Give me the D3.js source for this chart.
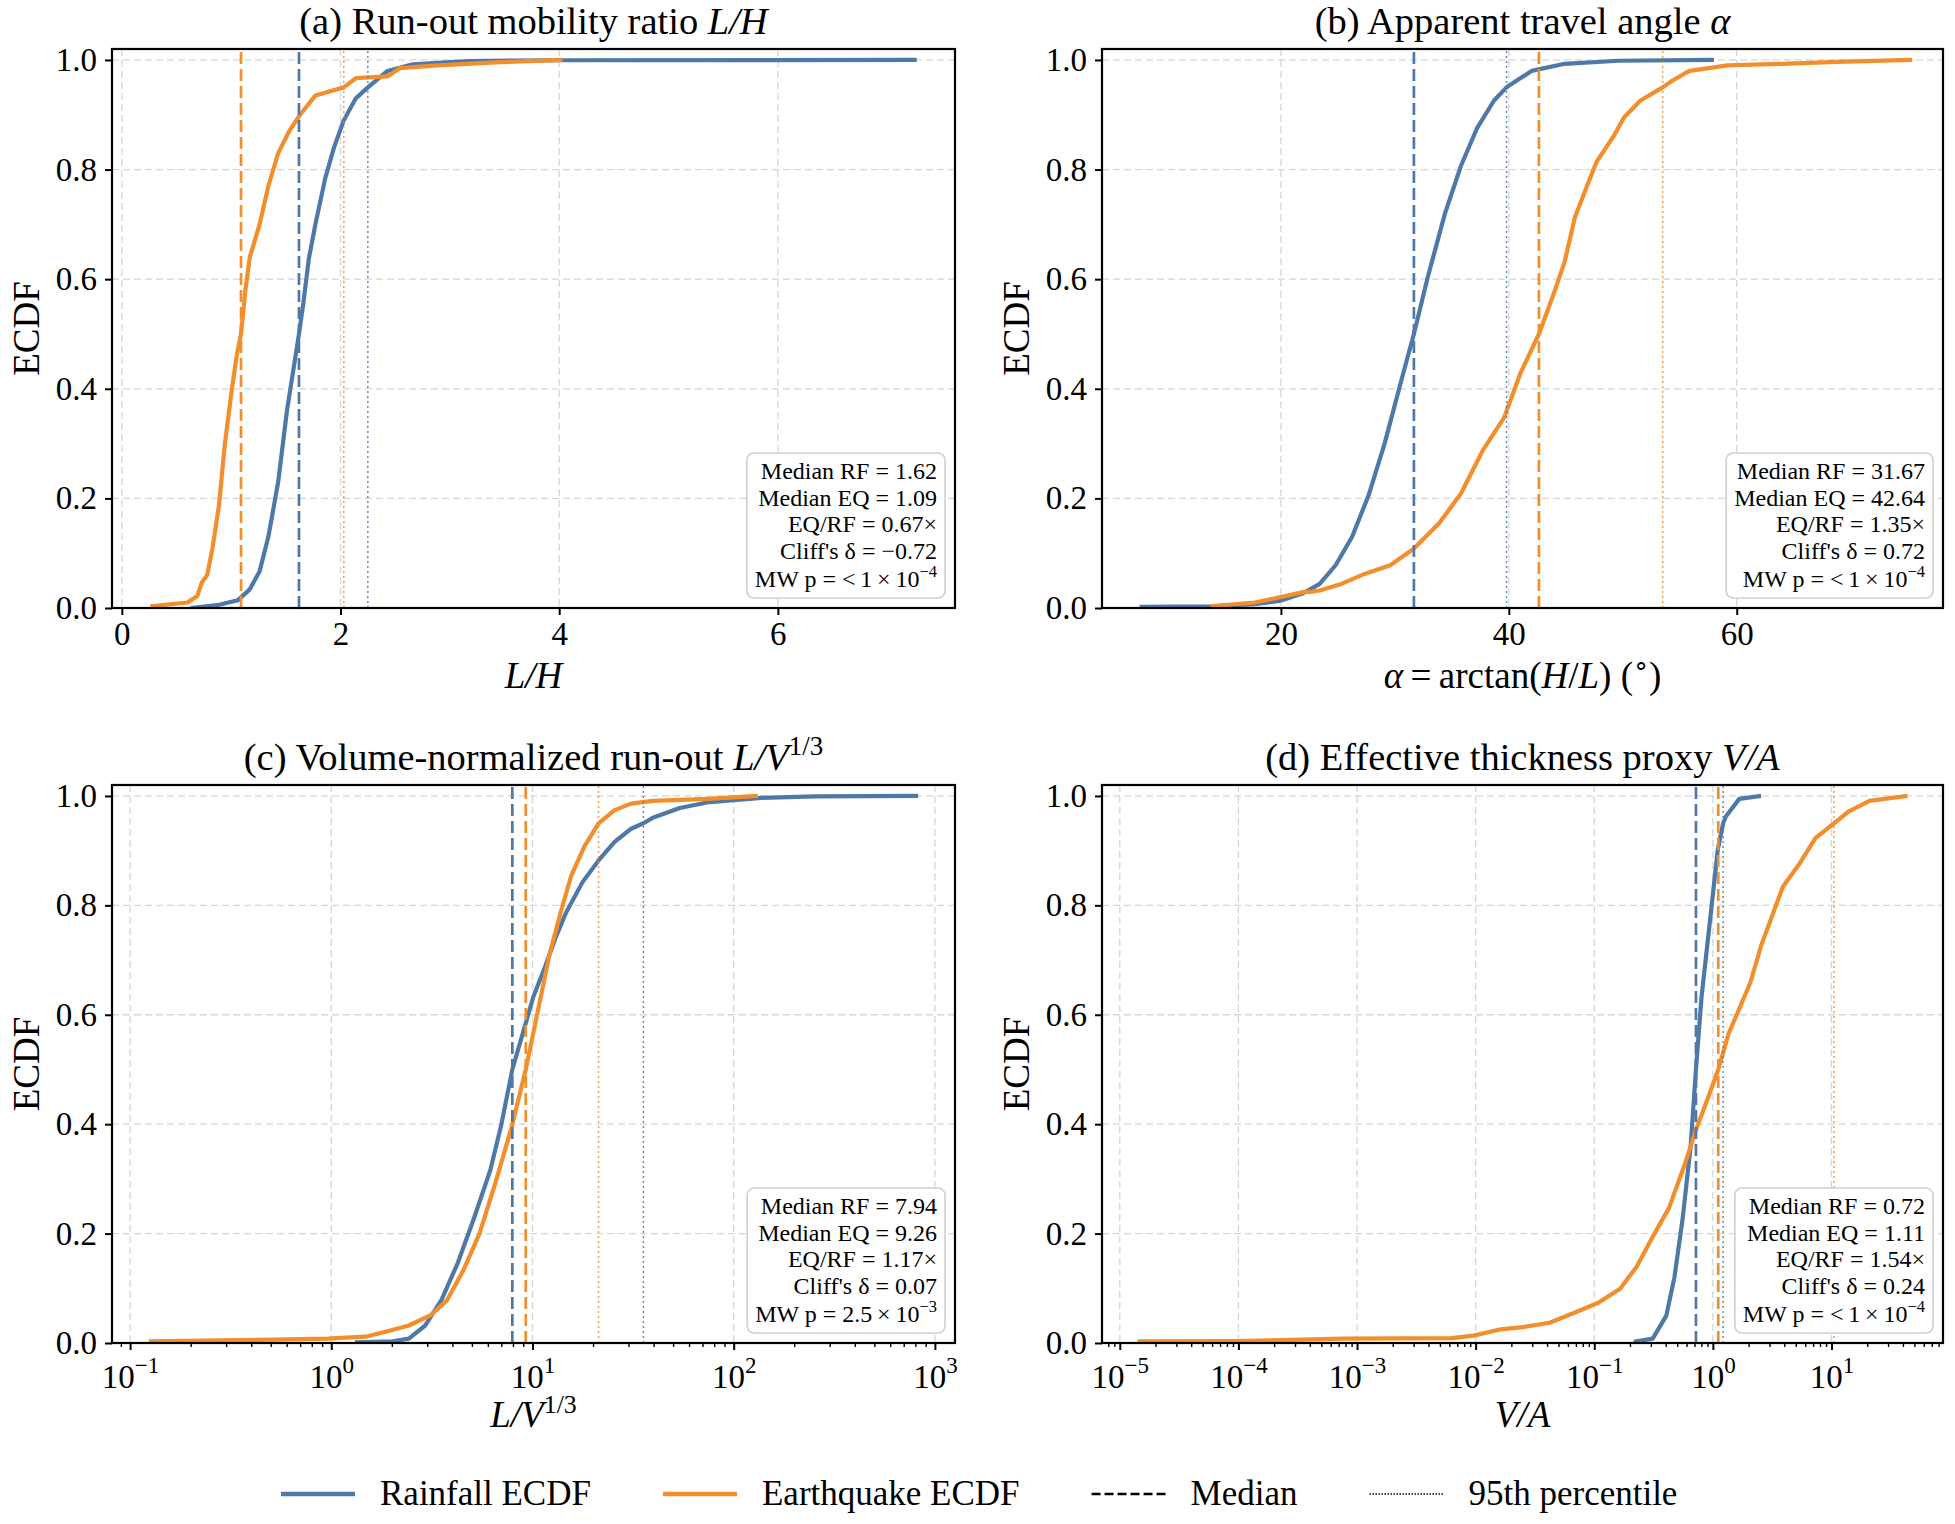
<!DOCTYPE html>
<html>
<head>
<meta charset="utf-8">
<script src="https://cdn.jsdelivr.net/npm/d3@7"></script>
<style>
  body { margin: 0; background: #fff; }
  text { font-family: "Liberation Serif", "Times New Roman", serif; fill: #000; }
</style>
</head>
<body>
<div id="chart"></div>
<script>
// ---- data: [value, ECDF] ----
// (a) L/H
const rfLH = [[0.63,0],[0.89,0.006],[1.06,0.014],[1.17,0.034],[1.26,0.067],[1.34,0.13],[1.43,0.23],[1.51,0.36],[1.62,0.5],[1.66,0.556],[1.71,0.637],[1.77,0.70],[1.86,0.784],[1.94,0.84],[2.03,0.89],[2.14,0.93],[2.25,0.95],[2.43,0.98],[2.66,0.992],[3.17,0.998],[4.0,0.9995],[7.27,1.0]];
const eqLH = [[0.26,0.003],[0.6,0.01],[0.69,0.022],[0.73,0.046],[0.78,0.06],[0.83,0.11],[0.89,0.19],[0.94,0.295],[1.0,0.39],[1.05,0.46],[1.09,0.5],[1.13,0.58],[1.17,0.64],[1.26,0.70],[1.34,0.77],[1.43,0.83],[1.53,0.87],[1.63,0.90],[1.77,0.935],[2.03,0.95],[2.14,0.967],[2.43,0.97],[2.54,0.985],[2.89,0.99],[3.46,0.996],[4.03,1.0]];
// (b) alpha
const rfAlpha = [[7.6,0.002],[13.8,0.003],[17.7,0.007],[20.0,0.0135],[21.96,0.027],[23.4,0.044],[24.8,0.078],[26.25,0.13],[27.7,0.206],[29.1,0.30],[30.5,0.41],[31.67,0.5],[32.9,0.605],[34.4,0.72],[35.8,0.807],[37.2,0.875],[38.7,0.926],[39.8,0.95],[42.0,0.98],[44.9,0.993],[49.6,0.9986],[58.0,1.0]];
const eqAlpha = [[13.8,0.003],[17.7,0.01],[20.0,0.02],[21.96,0.029],[22.7,0.03],[23.4,0.032],[25.3,0.044],[27.2,0.061],[29.6,0.078],[31.65,0.108],[33.9,0.155],[35.8,0.209],[37.7,0.287],[39.6,0.348],[41.05,0.43],[42.64,0.5],[43.9,0.571],[44.9,0.632],[45.8,0.713],[46.8,0.767],[47.7,0.814],[49.2,0.861],[50.1,0.895],[51.55,0.926],[53.5,0.95],[54.4,0.963],[55.85,0.98],[59.2,0.99],[64.0,0.993],[68.7,0.9966],[75.4,1.0]];
// (c) L/V^(1/3)
const rfLV = [[1.31,0.001],[2.02,0.003],[2.43,0.008],[2.93,0.032],[3.53,0.079],[4.26,0.147],[5.12,0.228],[6.17,0.316],[6.98,0.397],[7.94,0.5],[8.95,0.566],[10.1,0.633],[11.5,0.686],[13.0,0.74],[14.7,0.787],[17.7,0.842],[21.3,0.882],[25.6,0.916],[30.9,0.94],[35.6,0.95],[39.6,0.96],[54.0,0.978],[73.6,0.988],[137,0.9966],[254,0.9993],[826,1.0]];
const eqLV = [[0.124,0.003],[0.516,0.006],[0.962,0.008],[1.48,0.0115],[1.90,0.0216],[2.43,0.032],[3.12,0.051],[3.76,0.078],[4.52,0.132],[5.45,0.2],[6.56,0.294],[7.91,0.397],[9.26,0.5],[10.8,0.619],[12.2,0.713],[13.8,0.787],[15.6,0.855],[18.2,0.909],[21.3,0.95],[25.6,0.974],[30.9,0.986],[39.6,0.991],[73.6,0.9946],[132,1.0]];
// (d) V/A
const rfVA = [[0.215,0.002],[0.311,0.008],[0.405,0.05],[0.474,0.12],[0.555,0.226],[0.650,0.36],[0.72,0.5],[0.802,0.632],[0.94,0.767],[1.10,0.902],[1.22,0.95],[1.29,0.963],[1.67,0.9946],[2.55,1.0]];
const eqVA = [[1.41e-5,0.003],[9.3e-5,0.0034],[7.8e-4,0.008],[6.3e-3,0.009],[9.6e-3,0.0135],[0.0163,0.025],[0.0249,0.029],[0.0421,0.037],[0.0713,0.057],[0.109,0.074],[0.165,0.099],[0.227,0.139],[0.311,0.194],[0.427,0.247],[0.585,0.329],[0.721,0.39],[0.891,0.443],[1.11,0.5],[1.36,0.566],[1.67,0.611],[2.07,0.659],[2.55,0.726],[3.15,0.78],[3.89,0.834],[5.33,0.875],[7.31,0.923],[10.5,0.95],[13.8,0.971],[20.9,0.991],[43.7,1.0]];

// medians and 95th percentiles [RF, EQ]
const medians = [[1.62,1.09],[31.67,42.64],[7.94,9.26],[0.72,1.11]];
const p95 = [[2.25,2.03],[39.8,53.5],[35.6,21.3],[1.22,10.5]];

// stats box text
const statLines = [
  ["Median RF = 1.62","Median EQ = 1.09","EQ/RF = 0.67×","Cliff's δ = −0.72"],
  ["Median RF = 31.67","Median EQ = 42.64","EQ/RF = 1.35×","Cliff's δ = 0.72"],
  ["Median RF = 7.94","Median EQ = 9.26","EQ/RF = 1.17×","Cliff's δ = 0.07"],
  ["Median RF = 0.72","Median EQ = 1.11","EQ/RF = 1.54×","Cliff's δ = 0.24"]
];
const pValues = [["<\u20091\u2009×\u200910","−4"],["<\u20091\u2009×\u200910","−4"],["2.5\u2009×\u200910","−3"],["<\u20091\u2009×\u200910","−4"]];

const yTicks = [0,0.2,0.4,0.6,0.8,1.0];
const xTicksA = [0,2,4,6];
const xTicksB = [20,40,60];
const xTicksC = [0.1,1,10,100,1000];
const xTicksD = [1e-5,1e-4,1e-3,1e-2,1e-1,1,10];

const legendItems = ["Rainfall ECDF","Earthquake ECDF","Median","95th percentile"];

// ---- layout ----
const serif = '"Liberation Serif", "Times New Roman", serif';
const blue = "#4e79a7", orange = "#f28e2b";
const W = 1955, H = 1524;
const svg = d3.select("#chart").append("svg")
  .attr("width", W).attr("height", H)
  .attr("font-family", serif)
  .style("background", "#fff");

const cols = [[112, 955], [1102, 1943]];
const rows = [[49, 608], [785, 1343]];

const panels = [
  { col:0, row:0, log:false, domain:[-0.09,7.62], ticks:xTicksA, rf:rfLH, eq:eqLH,
    title:[["(a) Run-out mobility ratio "],["L/H","i"]], xlabel:[["L/H","i"]] },
  { col:1, row:0, log:false, domain:[4.3,78.1], ticks:xTicksB, rf:rfAlpha, eq:eqAlpha,
    title:[["(b) Apparent travel angle "],["α","i"]],
    xlabel:[["α","i"],["\u2009=\u2009arctan("],["H","i"],["/"],["L","i"],[")  ("],["∘","s"],[")"]] },
  { col:0, row:1, log:true, domain:[0.0813,1259], ticks:xTicksC, rf:rfLV, eq:eqLV,
    title:[["(c) Volume-normalized run-out "],["L/V","i"],["1/3","s"]], xlabel:[["L/V","i"],["1/3","s"]] },
  { col:1, row:1, log:true, domain:[7.08e-6,87.1], ticks:xTicksD, rf:rfVA, eq:eqVA,
    title:[["(d) Effective thickness proxy "],["V/A","i"]], xlabel:[["V/A","i"]] }
];

// rich text: segments [text, flag] where flag i = italic, s = superscript
function rich(sel, segs, size) {
  let raised = false;
  segs.forEach(([t, f]) => {
    const ts = sel.append("tspan").text(t);
    if (f === "i") ts.attr("font-style", "italic");
    if (f === "s") {
      ts.attr("font-size", size * 0.7).attr("dy", -size * 0.38);
      raised = true;
    } else if (raised) {
      ts.attr("dy", size * 0.38);
      raised = false;
    }
  });
}

function expLabel(sel, v) {
  const e = Math.round(Math.log10(v));
  sel.text(null);
  sel.append("tspan").text("10");
  sel.append("tspan").attr("font-size", 23).attr("dy", -15)
    .text(e < 0 ? "−" + (-e) : String(e));
}

panels.forEach((p, i) => {
  const [left, right] = cols[p.col];
  const [top, bottom] = rows[p.row];
  const x = (p.log ? d3.scaleLog() : d3.scaleLinear()).domain(p.domain).range([left, right]);
  const y = d3.scaleLinear().domain([0, 1.02]).range([bottom, top]);
  const g = svg.append("g");

  const clipId = "clip" + i;
  g.append("clipPath").attr("id", clipId).append("rect")
    .attr("x", left).attr("y", top).attr("width", right - left).attr("height", bottom - top);

  // grid
  const grid = g.append("g").attr("stroke", "#d6d6d6").attr("stroke-width", 1.3)
    .attr("stroke-dasharray", "7,4");
  grid.selectAll("line.gx").data(p.ticks).join("line")
    .attr("x1", d => x(d)).attr("x2", d => x(d)).attr("y1", top).attr("y2", bottom);
  grid.selectAll("line.gy").data(yTicks).join("line")
    .attr("x1", left).attr("x2", right).attr("y1", d => y(d)).attr("y2", d => y(d));

  // ECDF curves
  const line = d3.line().x(d => x(d[0])).y(d => y(d[1]));
  const plot = g.append("g").attr("clip-path", `url(#${clipId})`);
  plot.append("path").datum(p.rf).attr("d", line)
    .attr("fill", "none").attr("stroke", blue).attr("stroke-width", 4.2).attr("stroke-linejoin", "round");
  plot.append("path").datum(p.eq).attr("d", line)
    .attr("fill", "none").attr("stroke", orange).attr("stroke-width", 4.2).attr("stroke-linejoin", "round");

  // median and 95th percentile markers
  const cols2 = [blue, orange];
  medians[i].forEach((m, k) => {
    plot.append("line").attr("x1", x(m)).attr("x2", x(m)).attr("y1", bottom).attr("y2", top)
      .attr("stroke", cols2[k]).attr("stroke-width", 2.7).attr("stroke-dasharray", "12,5");
  });
  p95[i].forEach((m, k) => {
    plot.append("line").attr("x1", x(m)).attr("x2", x(m)).attr("y1", bottom).attr("y2", top)
      .attr("stroke", cols2[k]).attr("stroke-width", 1.5).attr("stroke-dasharray", "2,3")
      .attr("opacity", 0.85);
  });

  // axes
  const ax = g.append("g").attr("transform", `translate(0,${bottom})`)
    .call(d3.axisBottom(x).tickValues(p.ticks).tickSize(7).tickPadding(7)
      .tickFormat(p.log ? () => "" : d3.format("d")))
    .attr("font-family", serif);
  if (p.log) {
    const minors = x.ticks()
      .filter(v => Math.abs(Math.log10(v) - Math.round(Math.log10(v))) > 1e-6)
      .filter(v => v >= p.domain[0] && v <= p.domain[1]);
    g.append("g").attr("transform", `translate(0,${bottom})`)
      .call(d3.axisBottom(x).tickValues(minors).tickSize(4).tickFormat(() => ""))
      .call(s => s.select(".domain").remove())
      .selectAll("line").attr("stroke-width", 1.4);
    ax.selectAll(".tick text").each(function(d) { expLabel(d3.select(this), d); })
      .attr("dy", null).attr("y", 45);
  }
  ax.selectAll(".tick text").attr("font-size", 33);
  ax.selectAll(".tick line").attr("stroke-width", 2);
  ax.select(".domain").remove();

  const ay = g.append("g").attr("transform", `translate(${left},0)`)
    .call(d3.axisLeft(y).tickValues(yTicks).tickSize(7).tickPadding(8).tickFormat(d3.format(".1f")))
    .attr("font-family", serif);
  ay.selectAll(".tick text").attr("font-size", 33);
  ay.selectAll(".tick line").attr("stroke-width", 2);
  ay.select(".domain").remove();

  // frame
  g.append("rect").attr("x", left).attr("y", top).attr("width", right - left).attr("height", bottom - top)
    .attr("fill", "none").attr("stroke", "#000").attr("stroke-width", 2.2);

  // titles and labels
  rich(g.append("text").attr("x", (left + right) / 2).attr("y", top - 15)
    .attr("text-anchor", "middle").attr("font-size", 38.5), p.title, 38.5);
  rich(g.append("text").attr("x", (left + right) / 2).attr("y", bottom + (p.log ? 84 : 80))
    .attr("text-anchor", "middle").attr("font-size", 37), p.xlabel, 37);
  g.append("text").attr("transform", `translate(${left - 73},${(top + bottom) / 2}) rotate(-90)`)
    .attr("text-anchor", "middle").attr("font-size", 37).text("ECDF");

  // stats box
  const box = g.append("g");
  const rect = box.append("rect").attr("fill", "#fff").attr("fill-opacity", 0.9)
    .attr("stroke", "#cfcfcf").attr("stroke-width", 1.6).attr("rx", 7);
  const tx = right - 18;
  const t0 = bottom - 10 - 145 + 26;
  statLines[i].forEach((s, k) => {
    box.append("text").attr("x", tx).attr("y", t0 + k * 26.5).attr("text-anchor", "end")
      .attr("font-size", 24).text(s);
  });
  const pt = box.append("text").attr("x", tx).attr("y", t0 + 4 * 26.5 + 2).attr("text-anchor", "end")
    .attr("font-size", 24);
  pt.append("tspan").text("MW p = " + pValues[i][0]);
  pt.append("tspan").attr("font-size", 16.5).attr("dy", -10).text(pValues[i][1]);
  let maxW = 0;
  box.selectAll("text").each(function() { maxW = Math.max(maxW, this.getComputedTextLength()); });
  rect.attr("x", right - 10 - maxW - 16).attr("y", bottom - 10 - 145)
    .attr("width", maxW + 16).attr("height", 145);
});

// ---- legend ----
const lg = svg.append("g");
const ly = 1494;
let lx = 281;
const styles = [
  { stroke: blue, w: 4.5, dash: null },
  { stroke: orange, w: 4.5, dash: null },
  { stroke: "#000", w: 2.6, dash: "9,4" },
  { stroke: "#000", w: 1.5, dash: "1.5,1.5" }
];
legendItems.forEach((name, k) => {
  const st = styles[k];
  lg.append("line").attr("x1", lx).attr("x2", lx + 74).attr("y1", ly).attr("y2", ly)
    .attr("stroke", st.stroke).attr("stroke-width", st.w).attr("stroke-dasharray", st.dash);
  const t = lg.append("text").attr("x", lx + 99).attr("y", ly + 11).attr("font-size", 35).text(name);
  lx = lx + 99 + t.node().getComputedTextLength() + 72;
});

// force the serif face on every label, including the axis tick texts
svg.selectAll("text").style("font-family", serif);
</script>
</body>
</html>
